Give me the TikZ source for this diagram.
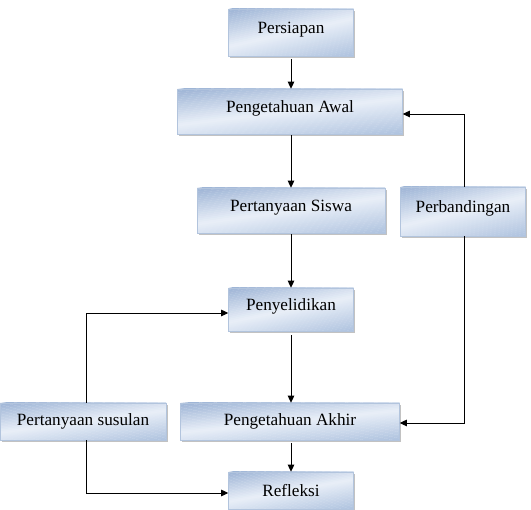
\documentclass[tikz,border=0pt]{standalone}
\usepackage{fontspec}
\setmainfont{Liberation Serif}
\usetikzlibrary{arrows.meta,shadows,calc}
\definecolor{bdark}{HTML}{9CB3D5}
\definecolor{bmid}{HTML}{E9EFF8}
\definecolor{bbot}{HTML}{AFC3DF}
\definecolor{bedge}{HTML}{B2C4DD}
\tikzset{
  flowbox/.style={draw=bedge, line width=0.6pt, rectangle, inner sep=0pt,
    fill=bmid,
    path picture={
      \foreach \i in {0,...,39}{
        \pgfmathsetmacro\tt{(\i+0.5)/40}
        \pgfmathsetmacro\pa{max(0,100*(1-2*\tt))}
        \pgfmathsetmacro\pb{max(0,100*(2*\tt-1))}
        \pgfmathsetmacro\ua{-0.3+1.6*\i/40}
        \pgfmathsetmacro\ub{-0.3+1.6*(\i+1.1)/40}
        \colorlet{cc}{bdark!\pa!bmid}
        \colorlet{cc}{bbot!\pb!cc}
        \fill[cc]
          ($(path picture bounding box.north west)!{\ua+0.3}!(path picture bounding box.south west)$) --
          ($(path picture bounding box.north east)!{\ua-0.3}!(path picture bounding box.south east)$) --
          ($(path picture bounding box.north east)!{\ub-0.3}!(path picture bounding box.south east)$) --
          ($(path picture bounding box.north west)!{\ub+0.3}!(path picture bounding box.south west)$) -- cycle;
      }
    },
    font=\fontsize{17.2}{20}\selectfont, text=black,
    drop shadow={shadow xshift=1.5pt, shadow yshift=-2pt, fill=black!40, opacity=0.6}},
  upper/.style={text height=11pt, text depth=9pt},
  conn/.style={draw=black, line width=0.9pt, -{Triangle[length=7pt,width=6.5pt]}}
}
\begin{document}
\begin{tikzpicture}[x=1pt,y=-1pt]
\useasboundingbox (0,0) rectangle (531,510);
\node[flowbox,upper,minimum width=125pt,minimum height=47pt] (prep) at (291,32.5) {Persiapan};
\node[flowbox,upper,minimum width=225pt,minimum height=45pt] (awal) at (290,111.5) {Pengetahuan Awal};
\node[flowbox,upper,minimum width=188pt,minimum height=45pt] (siswa) at (291,210.5) {Pertanyaan Siswa};
\node[flowbox,upper,minimum width=125pt,minimum height=49pt] (band) at (463,211.5) {Perbandingan};
\node[flowbox,upper,minimum width=125pt,minimum height=43pt] (sel) at (291,309.5) {Penyelidikan};
\node[flowbox,minimum width=166pt,minimum height=37pt] (sus) at (83,421.5) {Pertanyaan susulan};
\node[flowbox,minimum width=219pt,minimum height=37pt] (akhir) at (290,421.5) {Pengetahuan Akhir};
\node[flowbox,minimum width=125pt,minimum height=37pt] (ref) at (291,490.5) {Refleksi};

\draw[conn] ([yshift=-2.5pt]prep.south) -- (prep.south |- awal.north);
\draw[conn] ([yshift=-1pt]awal.south -| siswa.south) -- (siswa.north);
\draw[conn] ([yshift=-1pt]siswa.south) -- (sel.north);
\draw[conn] ([yshift=-4pt]sel.south) -- (sel.south |- akhir.north);
\draw[conn] ([yshift=-2.5pt]akhir.south -| ref.north) -- (ref.north);
\draw[conn] ([xshift=1pt]band.north) |- ([yshift=-2.5pt]awal.east);
\draw[conn] ([xshift=1pt]band.south) |- ([yshift=-1.5pt]akhir.east);
\draw[conn] ([xshift=3pt]sus.north) |- ([yshift=-3.5pt]sel.west);
\draw[conn] ([xshift=3pt]sus.south) |- ([yshift=-2.5pt]ref.west);
\end{tikzpicture}
\end{document}
